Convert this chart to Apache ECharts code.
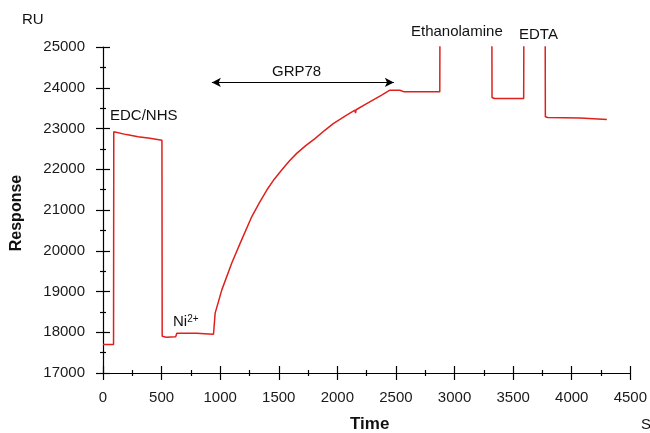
<!DOCTYPE html>
<html>
<head>
<meta charset="utf-8">
<script src="https://cdn.jsdelivr.net/npm/echarts@6/dist/echarts.min.js"></script>
<style>
  html, body { margin: 0; padding: 0; background: #fff; }
  #chart { width: 650px; height: 433px; }
</style>
</head>
<body>
<div id="chart"></div>
<script>
  // sensorgram samples (s, RU); 26000 = off scale above the axis
  var timeSec = [0, 90, 92, 200, 300, 400, 503, 505, 540, 620, 630, 800, 900, 943,
    957, 1014, 1099, 1170, 1270, 1335, 1398, 1460, 1525, 1590, 1653, 1730, 1809, 1890, 1965, 2079, 2150, 2155, 2160,
    2250, 2378, 2448, 2534, 2570, 2874, 2876, 3318, 3320, 3340, 3590, 3592, 3773, 3775,
    3795, 4071, 4075, 4300];
  var responseRU = [17700, 17700, 22920, 22850, 22800, 22760, 22710, 17900, 17880, 17890, 17975, 17975, 17960, 17950,
    18470, 19040, 19700, 20180, 20840, 21180, 21490, 21750, 21980, 22200, 22390, 22580, 22750, 22950, 23120, 23330, 23450, 23380, 23460,
    23610, 23820, 23940, 23940, 23900, 23900, 26000, 26000, 23760, 23735, 23735, 26000, 26000, 23290,
    23270, 23260, 23225, 23220];
  var xTicks = { min: 0, max: 4500, step: 500 };
  var yTicks = { min: 17000, max: 25000, step: 1000 };

  var points = timeSec.map(function (t, i) { return [t, responseRU[i]]; });

  var myChart = echarts.init(document.getElementById('chart'));
  var font = 'Liberation Sans, Arial, sans-serif';
  var plain = function (v) { return String(v); };

  // 两套坐标轴叠在一起，做出穿过轴线的刻度
  function xAxisOf(inside) {
    return {
      type: 'value', position: 'bottom',
      min: xTicks.min, max: xTicks.max, interval: xTicks.step,
      axisLine: { show: !inside, lineStyle: { color: '#000', width: 1.2 } },
      axisTick: { show: true, inside: inside, length: 7, lineStyle: { color: '#000', width: 1.2 } },
      minorTick: { show: true, splitNumber: 2, length: 3, lineStyle: { color: '#000', width: 1.2 } },
      axisLabel: { show: !inside, margin: 17, color: '#1a1a1a', fontSize: 15, fontFamily: font, formatter: plain },
      splitLine: { show: false }
    };
  }
  function yAxisOf(inside) {
    return {
      type: 'value', position: 'left',
      min: yTicks.min, max: yTicks.max, interval: yTicks.step,
      axisLine: { show: !inside, lineStyle: { color: '#000', width: 1.2 } },
      axisTick: { show: true, inside: inside, length: 7, lineStyle: { color: '#000', width: 1.2 } },
      minorTick: { show: true, splitNumber: 2, length: 3, lineStyle: { color: '#000', width: 1.2 } },
      axisLabel: { show: !inside, margin: 18, color: '#1a1a1a', fontSize: 15, fontFamily: font, formatter: plain },
      splitLine: { show: false }
    };
  }

  var txt = function (x, y, text, extra) {
    return {
      type: 'text', left: x, top: y,
      style: Object.assign({ text: text, fill: '#111', font: '15px ' + font }, extra || {})
    };
  };

  var option = {
    animation: false,
    grid: { left: 103, right: 19, top: 47, bottom: 60 },
    xAxis: [xAxisOf(false), xAxisOf(true)],
    yAxis: [yAxisOf(false), yAxisOf(true)],
    series: [{
      type: 'line',
      data: points,
      showSymbol: false,
      clip: true,
      lineStyle: { color: '#e0201c', width: 1.5 },
      markLine: {
        silent: true,
        symbol: ['arrow', 'arrow'],
        symbolSize: [7, 9],
        label: { show: false },
        lineStyle: { color: '#000', width: 1, type: 'solid' },
        data: [[{ coord: [929, 24130] }, { coord: [2482, 24130] }]]
      }
    }],
    graphic: [
      txt(22, 12, 'RU'),
      txt(110, 108, 'EDC/NHS'),
      {
        type: 'text', left: 173, top: 314,
        style: {
          text: 'Ni{s|2+}', fill: '#111', font: '15px ' + font,
          rich: { s: { fontSize: 10, fontFamily: font, fill: '#111', verticalAlign: 'top', lineHeight: 15 } }
        }
      },
      txt(272, 64, 'GRP78'),
      txt(411, 24, 'Ethanolamine'),
      txt(519, 27, 'EDTA'),
      txt(350, 416, 'Time', { font: 'bold 17px ' + font }),
      txt(641, 417, 'S'),
      {
        type: 'text', x: 17, y: 213, rotation: Math.PI / 2,
        style: { text: 'Response', fill: '#111', font: 'bold 16px ' + font, align: 'center', verticalAlign: 'middle' }
      }
    ]
  };

  myChart.setOption(option);
</script>
</body>
</html>
